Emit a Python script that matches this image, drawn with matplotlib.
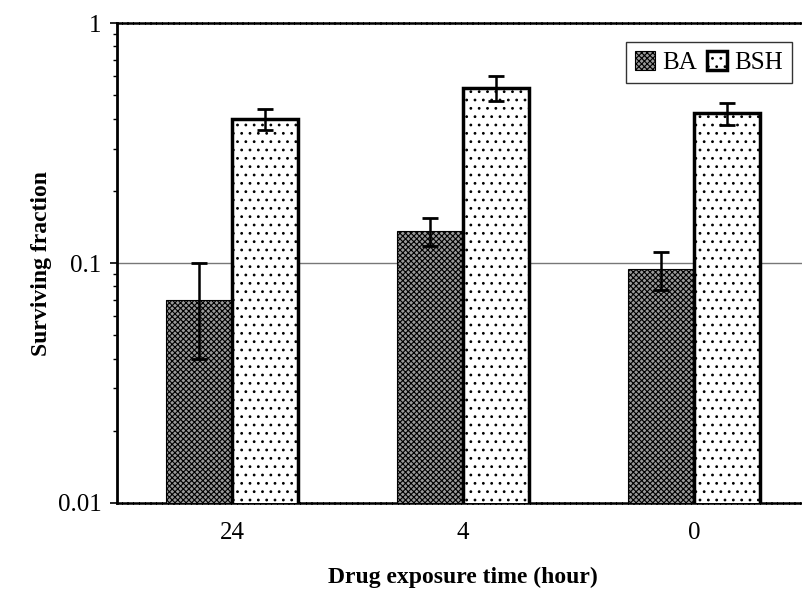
import matplotlib
matplotlib.use('Agg')
import matplotlib.pyplot as plt
import numpy as np

plt.rcParams['font.family'] = ['Liberation Serif', 'DejaVu Serif']
plt.rcParams['hatch.linewidth'] = 0.8

times = ['24', '4', '0']
ba = [0.070, 0.136, 0.094]
ba_err = [0.030, 0.018, 0.017]
bsh = [0.400, 0.536, 0.420]
bsh_err = [0.040, 0.065, 0.045]

def main():
    fig = plt.figure(figsize=(8.03, 6.06), dpi=100)
    ax = fig.add_axes([0.1457, 0.170, 0.862, 0.792])

    x = np.arange(len(times))
    w = 0.286

    ax.bar(x - w, ba, w, align='edge', facecolor='#9a9a9a', edgecolor='black',
           hatch='xxxxxx', linewidth=0.8, label='BA', zorder=3)
    ax.bar(x, bsh, w, align='edge', facecolor='white', edgecolor='black',
           hatch='..', linewidth=2.5, label='BSH', zorder=3)
    ax.errorbar(x - w / 2, ba, yerr=ba_err, fmt='none', ecolor='black',
                elinewidth=1.8, capsize=6, capthick=2, zorder=4)
    ax.errorbar(x + w / 2, bsh, yerr=bsh_err, fmt='none', ecolor='black',
                elinewidth=1.8, capsize=6, capthick=2, zorder=4)

    ax.set_yscale('log')
    ax.set_ylim(0.01, 1)
    ax.set_xlim(-0.5, 2.5)
    ax.set_yticks([0.01, 0.1, 1])
    ax.set_yticklabels(['0.01', '0.1', '1'])
    ax.set_xticks(x)
    ax.set_xticklabels(times)
    ax.tick_params(axis='x', length=0, pad=14, labelsize=18)
    ax.tick_params(axis='y', which='major', length=5, width=1.2, labelsize=18, pad=6)
    ax.tick_params(axis='y', which='minor', length=3, width=1.0)

    ax.axhline(0.1, color='#777777', linewidth=1.0, zorder=1)

    ax.spines['right'].set_visible(False)
    for side in ('top', 'bottom'):
        ax.spines[side].set_linewidth(1.8)
        ax.spines[side].set_linestyle((0, (1.5, 0.8)))
    ax.spines['left'].set_linewidth(2.0)

    ax.set_ylabel('Surviving fraction', fontsize=17, fontweight='bold', labelpad=4)
    ax.set_xlabel('Drug exposure time (hour)', fontsize=17, fontweight='bold', labelpad=16)

    leg = ax.legend(loc='upper right', bbox_to_anchor=(0.975, 0.96), ncol=2,
                    fontsize=18, frameon=True, fancybox=False, handlelength=0.8,
                    handleheight=0.8, handletextpad=0.3, columnspacing=0.4,
                    borderpad=0.35, borderaxespad=0)
    leg.get_frame().set_edgecolor('black')
    leg.get_frame().set_linewidth(1.0)

    fig.savefig('out.png', dpi=100)

if __name__ == '__main__':
    main()
